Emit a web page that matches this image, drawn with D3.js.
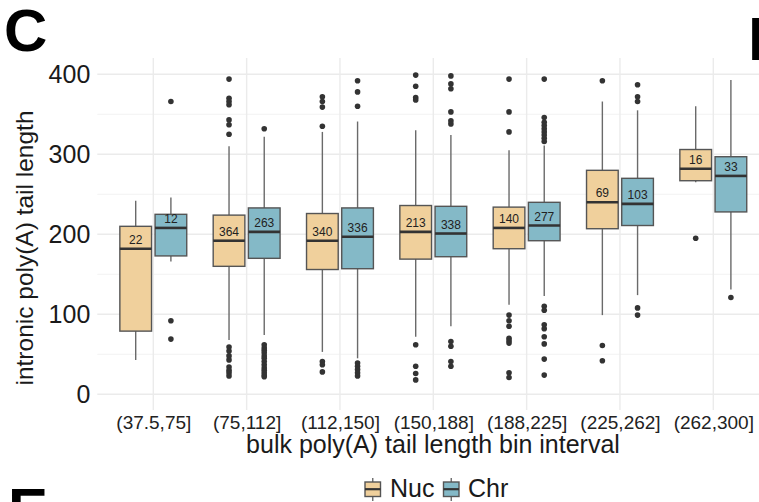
<!DOCTYPE html>
<html><head><meta charset="utf-8">
<script src="https://cdn.jsdelivr.net/npm/d3@7"></script>
<style>body{margin:0;background:#fff}svg{display:block}</style>
</head><body>
<script>
const categories = ["(37.5,75]","(75,112]","(112,150]","(150,188]","(188,225]","(225,262]","(262,300]"];
const series = ["Nuc","Chr"];
const seriesColors = ["#F0D09C","#84B9C7"];
const yTicks = [0,100,200,300,400];
const yMinor = [50,150,250,350];

const nucLower  = [43, 68, 53, 72, 112, 99, 265];
const nucQ1     = [79, 160, 156, 169, 182, 207, 267];
const nucMedian = [182, 192, 192, 203, 208, 240, 282];
const nucQ3     = [210, 224, 226, 236, 234, 280, 306];
const nucUpper  = [242, 310, 328, 330, 305, 366, 360];
const nucN      = [22, 364, 340, 213, 140, 69, 16];
const nucOutliers = [
  [],
  [394,370,366,362,343,337,325,59,54,48,43,34,30,27,23],
  [372,366,359,335,41,37,28],
  [399,385,371,368,62,35,26,18],
  [394,353,328,99,92,85,70,67,64,27,21],
  [392,61,42],
  [195]
];

const chrLower  = [166, 74, 45, 85, 123, 124, 131];
const chrQ1     = [173, 170, 157, 172, 192, 211, 228];
const chrMedian = [208, 203, 197, 201, 211, 238, 273];
const chrQ3     = [225, 233, 233, 235, 240, 270, 297];
const chrUpper  = [246, 322, 341, 324, 311, 355, 393];
const chrN      = [12, 263, 336, 338, 277, 103, 33];
const chrOutliers = [
  [366,92,69],
  [332,62,58,55,52,48,45,41,37,33,30,27,24,22],
  [392,378,360,39,35,31,27,23],
  [398,388,382,353,342,338,66,60,41,35],
  [394,346,340,336,332,328,324,320,316,110,105,87,82,72,63,44,24],
  [387,372,366,108,99],
  [121]
];

const W = 759, H = 502;
const font = "'Liberation Sans', Arial, Helvetica, sans-serif";
const svg = d3.select("body").append("svg").attr("width", W).attr("height", H)
  .style("font-family", font);

const panel = {left: 97.3, right: 769.3, top: 58, bottom: 410};
const x = d3.scalePoint().domain(categories).range([panel.left, panel.right]).padding(0.6);
const xs = d3.scaleBand().domain(series).range([-35.2, 35.2]);
const y = d3.scaleLinear().domain([-19.6, 420.4]).range([panel.bottom, panel.top]);
const color = d3.scaleOrdinal().domain(series).range(seriesColors);

// gridlines
const grid = svg.append("g");
grid.selectAll("line.minor").data(yMinor).join("line")
  .attr("x1", panel.left).attr("x2", panel.right)
  .attr("y1", d => y(d)).attr("y2", d => y(d))
  .attr("stroke", "#EFEFEF").attr("stroke-width", 0.8);
grid.selectAll("line.major").data(yTicks).join("line")
  .attr("x1", panel.left).attr("x2", panel.right)
  .attr("y1", d => y(d)).attr("y2", d => y(d))
  .attr("stroke", "#EBEBEB").attr("stroke-width", 1.4);
grid.selectAll("line.vx").data(categories).join("line")
  .attr("x1", d => x(d)).attr("x2", d => x(d))
  .attr("y1", panel.top).attr("y2", panel.bottom)
  .attr("stroke", "#EBEBEB").attr("stroke-width", 1.4);

// axes
const yAxis = svg.append("g").attr("transform", `translate(${panel.left},0)`)
  .call(d3.axisLeft(y).tickValues(yTicks).tickSize(0).tickPadding(7));
yAxis.select(".domain").remove();
yAxis.selectAll("text").style("font-size", "25px").style("font-family", font).attr("fill", "#1a1a1a");

const xAxis = svg.append("g").attr("transform", `translate(0,${panel.bottom})`)
  .call(d3.axisBottom(x).tickSize(0).tickPadding(5.5));
xAxis.select(".domain").remove();
xAxis.selectAll("text").style("font-size", "19px").style("font-family", font).attr("fill", "#222");

// boxes
const stats = {
  Nuc: {lower: nucLower, q1: nucQ1, median: nucMedian, q3: nucQ3, upper: nucUpper, n: nucN, out: nucOutliers},
  Chr: {lower: chrLower, q1: chrQ1, median: chrMedian, q3: chrQ3, upper: chrUpper, n: chrN, out: chrOutliers}
};
const boxW = xs.bandwidth() * 0.9;
const boxes = [];
series.forEach(s => categories.forEach((c, i) => {
  const st = stats[s];
  boxes.push({s, c, lower: st.lower[i], q1: st.q1[i], median: st.median[i], q3: st.q3[i],
    upper: st.upper[i], n: st.n[i], out: st.out[i], cx: x(c) + xs(s) + xs.bandwidth() / 2});
}));

const gb = svg.append("g");
const b = gb.selectAll("g.box").data(boxes).join("g");
b.append("line").attr("x1", d => d.cx).attr("x2", d => d.cx)
  .attr("y1", d => y(d.upper)).attr("y2", d => y(d.q3))
  .attr("stroke", "#6a6a6a").attr("stroke-width", 1.4);
b.append("line").attr("x1", d => d.cx).attr("x2", d => d.cx)
  .attr("y1", d => y(d.q1)).attr("y2", d => y(d.lower))
  .attr("stroke", "#6a6a6a").attr("stroke-width", 1.4);
b.append("rect").attr("x", d => d.cx - boxW / 2).attr("width", boxW)
  .attr("y", d => y(d.q3)).attr("height", d => y(d.q1) - y(d.q3))
  .attr("fill", d => color(d.s)).attr("stroke", "#555").attr("stroke-width", 1.4);
b.append("line").attr("x1", d => d.cx - boxW / 2).attr("x2", d => d.cx + boxW / 2)
  .attr("y1", d => y(d.median)).attr("y2", d => y(d.median))
  .attr("stroke", "#333").attr("stroke-width", 2.6);
b.selectAll("circle").data(d => d.out.map(v => ({v, cx: d.cx}))).join("circle")
  .attr("cx", d => d.cx).attr("cy", d => y(d.v)).attr("r", 2.8).attr("fill", "#333");
b.append("text").attr("x", d => d.cx).attr("y", d => y(d.median) - 9)
  .attr("text-anchor", "middle").attr("dominant-baseline", "central")
  .style("font-size", "12px").attr("fill", "#222").text(d => d.n);

// titles
svg.append("text").attr("x", 433).attr("y", 453).attr("text-anchor", "middle")
  .style("font-size", "25px").attr("fill", "#1a1a1a").text("bulk poly(A) tail length bin interval");
svg.append("text").attr("transform", "translate(33,248) rotate(-90)").attr("text-anchor", "middle")
  .style("font-size", "24.5px").attr("fill", "#1a1a1a").text("intronic poly(A) tail length");

// legend
const legendX = [365, 443.5];
const legendTextX = [390, 468];
const lg = svg.append("g");
series.forEach((s, i) => {
  const kx = legendX[i], kw = 15.5, cx = kx + kw / 2;
  lg.append("line").attr("x1", cx).attr("x2", cx).attr("y1", 478).attr("y2", 501)
    .attr("stroke", "#6a6a6a").attr("stroke-width", 1.4);
  lg.append("rect").attr("x", kx).attr("y", 482).attr("width", kw).attr("height", 14.5)
    .attr("fill", color(s)).attr("stroke", "#555").attr("stroke-width", 1.4);
  lg.append("line").attr("x1", kx).attr("x2", kx + kw).attr("y1", 489.2).attr("y2", 489.2)
    .attr("stroke", "#333").attr("stroke-width", 2.2);
  lg.append("text").attr("x", legendTextX[i]).attr("y", 497)
    .style("font-size", "25px").attr("fill", "#1a1a1a").text(s);
});

// panel letters
svg.append("text").attr("x", 4).attr("y", 51).style("font-size", "60px").style("font-weight", "bold").text("C");
svg.append("text").attr("x", 748).attr("y", 60).style("font-size", "62px").style("font-weight", "bold").text("D");
svg.append("text").attr("x", 8).attr("y", 530).style("font-size", "60px").style("font-weight", "bold").text("E");
</script>
</body></html>
